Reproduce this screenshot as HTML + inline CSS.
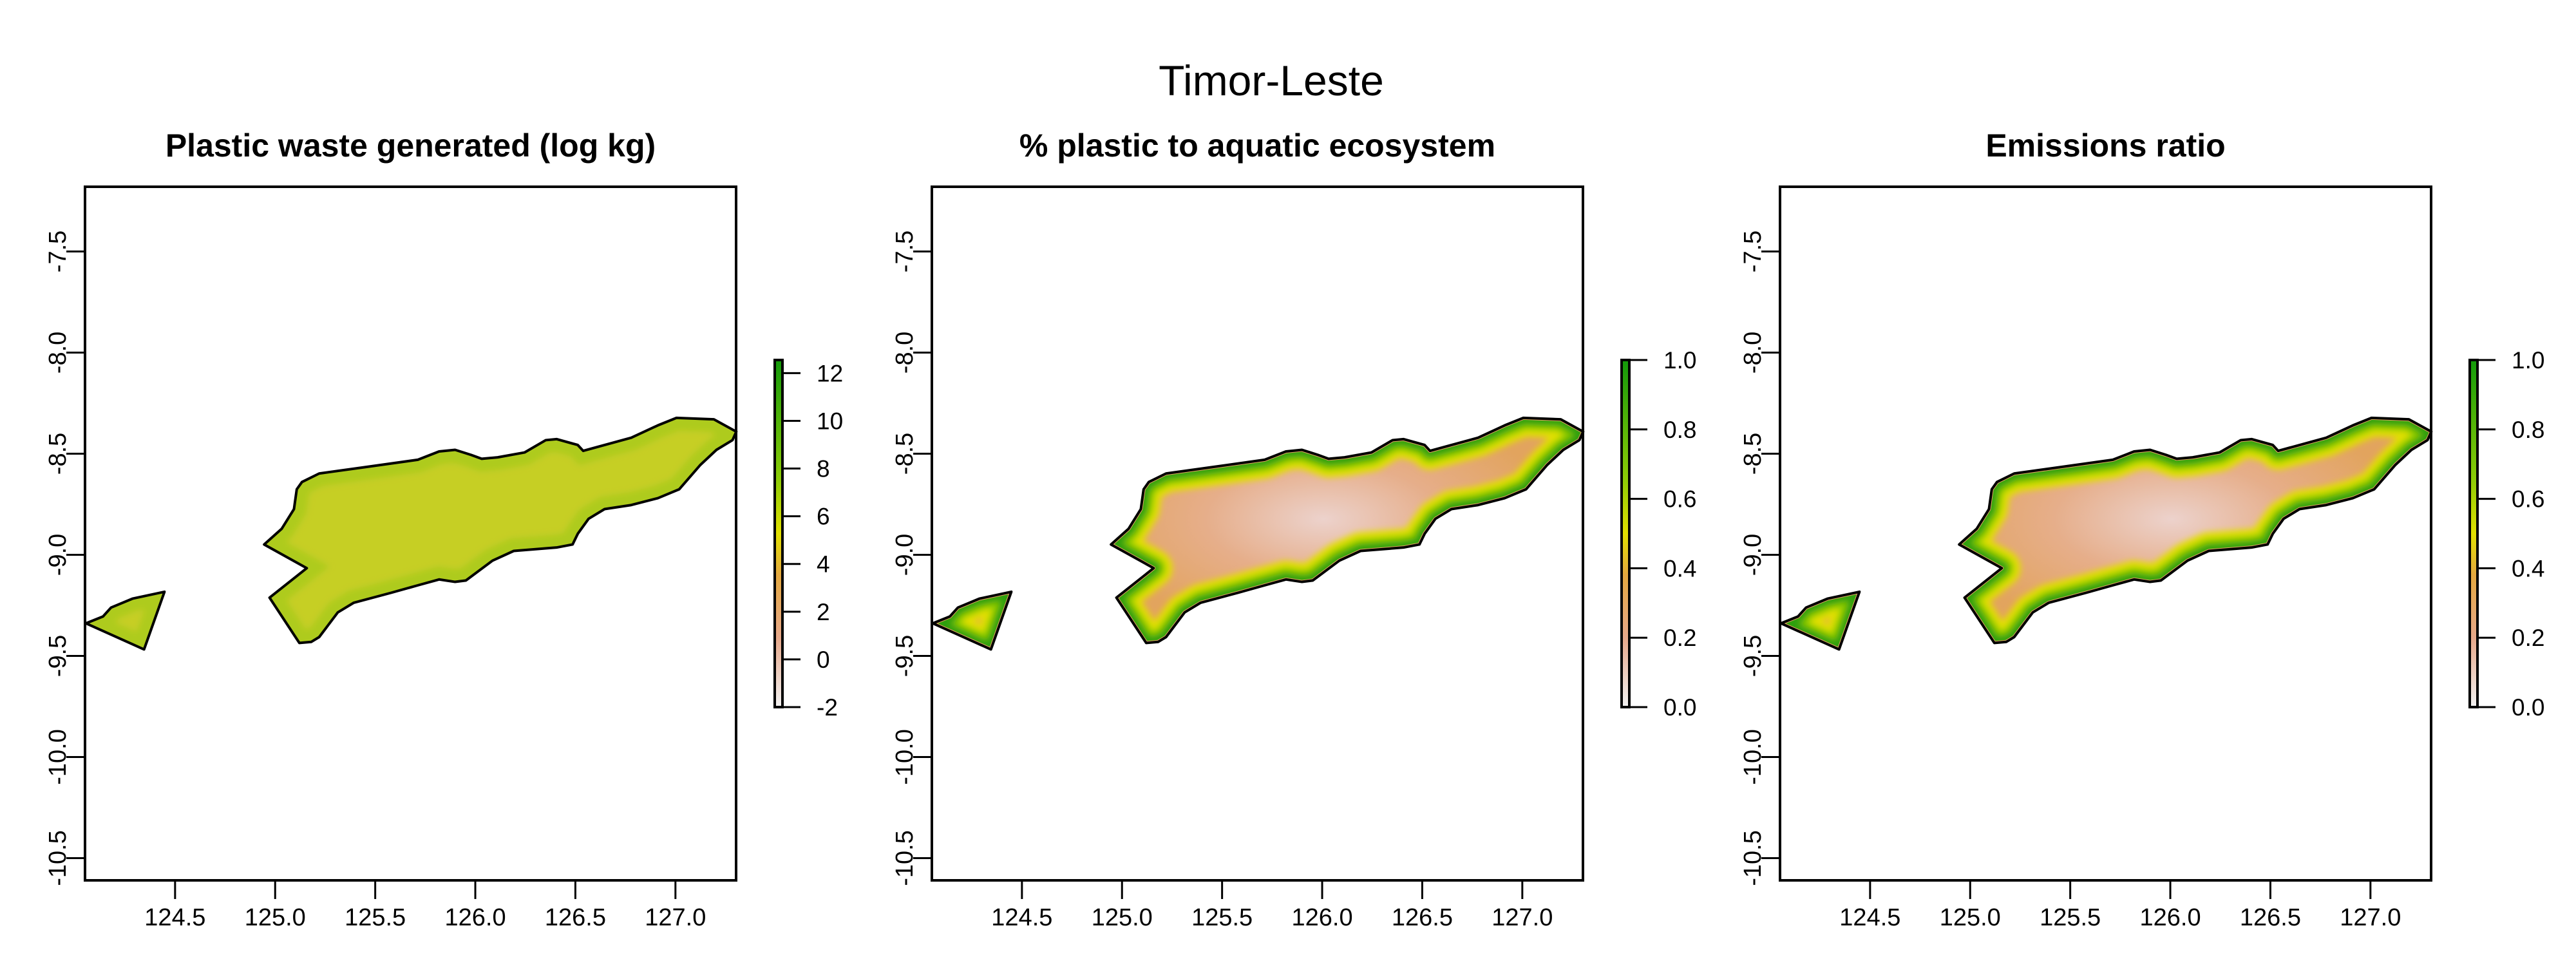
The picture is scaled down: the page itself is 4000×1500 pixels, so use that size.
<!DOCTYPE html>
<html><head><meta charset="utf-8"><title>Timor-Leste</title>
<style>html,body{margin:0;padding:0;background:#fff;}svg{display:block;font-family:"Liberation Sans",Arial,sans-serif;}</style>
</head><body>
<svg id="chart" xmlns="http://www.w3.org/2000/svg" width="4000" height="1500" viewBox="0 0 4000 1500">
<defs>
<linearGradient id="cbGrad" x1="0" y1="1" x2="0" y2="0">
<stop offset="0" stop-color="#f2f2f2"/><stop offset="0.2" stop-color="#e6a88a"/><stop offset="0.38" stop-color="#e4a840"/><stop offset="0.5" stop-color="#e2e000"/><stop offset="0.66" stop-color="#8ccc06"/><stop offset="1" stop-color="#139a0a"/>
</linearGradient>
<radialGradient id="inner2" cx="0.45" cy="0.45" r="0.5">
<stop offset="0" stop-color="#ecd2cc"/><stop offset="0.5" stop-color="#e6ae8a"/><stop offset="1" stop-color="#e2a45e"/>
</radialGradient>
<filter id="soft" x="-10%" y="-10%" width="120%" height="120%"><feGaussianBlur stdDeviation="5"/></filter>
</defs>
<text x="1974" y="148" font-size="66" text-anchor="middle">Timor-Leste</text>
<g id="panels"></g>
</svg>
<script>
const lonTicks = [124.5, 125.0, 125.5, 126.0, 126.5, 127.0];
const latTicks = [-7.5, -8.0, -8.5, -9.0, -9.5, -10.0, -10.5];
const panelTitles = ["Plastic waste generated (log kg)", "% plastic to aquatic ecosystem", "Emissions ratio"];
const cbTicks1 = [-2, 0, 2, 4, 6, 8, 10, 12];
const cbTicks2 = [0.0, 0.2, 0.4, 0.6, 0.8, 1.0];
const mainLon = [125.134,125.220,125.446,125.713,125.819,125.899,125.979,126.032,126.112,126.246,126.352,126.406,126.512,126.539,126.779,126.912,127.005,127.192,127.304,127.285,127.205,127.125,127.019,126.912,126.779,126.646,126.566,126.512,126.486,126.406,126.192,126.086,125.953,125.899,125.819,125.713,125.579,125.393,125.313,125.220,125.180,125.121,124.972,125.158,124.945,125.033,125.094,125.108];
const mainLat = [-8.640,-8.598,-8.567,-8.530,-8.489,-8.481,-8.506,-8.525,-8.518,-8.494,-8.433,-8.428,-8.457,-8.486,-8.421,-8.360,-8.323,-8.330,-8.391,-8.433,-8.481,-8.555,-8.676,-8.720,-8.754,-8.774,-8.822,-8.896,-8.949,-8.964,-8.981,-9.029,-9.127,-9.134,-9.122,-9.151,-9.188,-9.237,-9.285,-9.407,-9.431,-9.436,-9.212,-9.066,-8.949,-8.871,-8.774,-8.676];
const oecLon = [124.055,124.140,124.180,124.287,124.447,124.345];
const oecLat = [-9.339,-9.305,-9.261,-9.217,-9.183,-9.468];

const NS = "http://www.w3.org/2000/svg";
const panelLefts = [132, 1447, 2764];
const PW = 1011, PT = 290, PB = 1367;
const LON0 = 124.05, LON1 = 127.303, LAT0 = -7.18, LAT1 = -10.61;
function mk(tag, attrs, parent){const e=document.createElementNS(NS,tag);for(const k in attrs)e.setAttribute(k,attrs[k]);parent.appendChild(e);return e;}
const root = document.getElementById("panels");

panelLefts.forEach((L, pi) => {
  const xs = lon => L + (lon - LON0) / (LON1 - LON0) * PW;
  const ys = lat => PT + (lat - LAT0) / (LAT1 - LAT0) * (PB - PT);
  const g = mk("g", {}, root);
  
  
  const t = mk("text", {x: L + PW / 2, y: 243, "font-size": 50, "font-weight": "bold", "text-anchor": "middle"}, g);
  t.textContent = panelTitles[pi];
  
  

  const polys = [[mainLon, mainLat], [oecLon, oecLat]];
  polys.forEach((pp, k) => {
    const pts = pp[0].map((lo, i) => xs(lo) + "," + ys(pp[1][i])).join(" ");
    const cid = "clip" + pi + "_" + k;
    const cp = mk("clipPath", {id: cid}, g);
    mk("polygon", {points: pts}, cp);
    const lg = mk("g", {"clip-path": "url(#" + cid + ")"}, g);
    if (pi === 0) {
      mk("polygon", {points: pts, fill: "#c2d41c"}, lg);
      const bg = mk("g", {filter: "url(#soft)"}, lg);
      mk("polygon", {points: pts, fill: "none", stroke: "#d4c040", "stroke-width": 200, opacity: 0.25}, bg);
      mk("polygon", {points: pts, fill: "none", stroke: "#98c814", "stroke-width": 40, opacity: 0.5}, bg);
    } else {
      mk("polygon", {points: pts, fill: k === 0 ? "url(#inner2)" : "#e2a45e"}, lg);
      const bg = mk("g", {filter: "url(#soft)"}, lg);
      mk("polygon", {points: pts, fill: "none", stroke: "#e2e000", "stroke-width": 58, "stroke-linejoin": "round"}, bg);
      mk("polygon", {points: pts, fill: "none", stroke: "#8ccc06", "stroke-width": 38, "stroke-linejoin": "round"}, bg);
      mk("polygon", {points: pts, fill: "none", stroke: "#2fa00c", "stroke-width": 22, "stroke-linejoin": "round"}, bg);
      mk("polygon", {points: pts, fill: "none", stroke: "#e2a45e", "stroke-width": 6, "stroke-linejoin": "round"}, lg);
    }
    const ol = mk("polygon", {points: pts, fill: "none", stroke: "#000", "stroke-width": 4, "stroke-linejoin": "round"}, g);
    
    
  });

  const fr = mk("rect", {x: L, y: PT, width: PW, height: PB - PT, fill: "none", stroke: "#000", "stroke-width": 4}, g);
  
  

  lonTicks.forEach(v => {
    const x = xs(v);
    mk("line", {x1: x, y1: PB, x2: x, y2: PB + 29, stroke: "#000", "stroke-width": 3}, g);
    const tx = mk("text", {x: x, y: 1437, "font-size": 38, "text-anchor": "middle"}, g);
    tx.textContent = v.toFixed(1);
    
    
  });
  latTicks.forEach(v => {
    const y = ys(v);
    mk("line", {x1: L - 29, y1: y, x2: L, y2: y, stroke: "#000", "stroke-width": 3}, g);
    const tx = mk("text", {x: 0, y: 0, "font-size": 38, "text-anchor": "middle", transform: "translate(" + (L - 30) + "," + y + ") rotate(-90)"}, g);
    tx.textContent = v.toFixed(1);
    
    
  });

  const cbx = L + PW + 60, cbT = 559, cbB = 1098;
  const ticks = pi === 0 ? cbTicks1 : cbTicks2;
  const vmin = pi === 0 ? -2 : 0, vmax = pi === 0 ? 12.55 : 1.0;
  const cy = v => cbB - (v - vmin) / (vmax - vmin) * (cbB - cbT);
  const cb = mk("rect", {x: cbx, y: cbT, width: 12, height: cbB - cbT, fill: "url(#cbGrad)", stroke: "#000", "stroke-width": 4}, g);
  
  
  ticks.forEach(v => {
    const y = cy(v);
    mk("line", {x1: cbx + 12, y1: y, x2: cbx + 40, y2: y, stroke: "#000", "stroke-width": 3}, g);
    const tx = mk("text", {x: cbx + 65, y: y + 13, "font-size": 37}, g);
    tx.textContent = pi === 0 ? String(v) : v.toFixed(1);
    
    
  });
});
</script>
</body></html>
